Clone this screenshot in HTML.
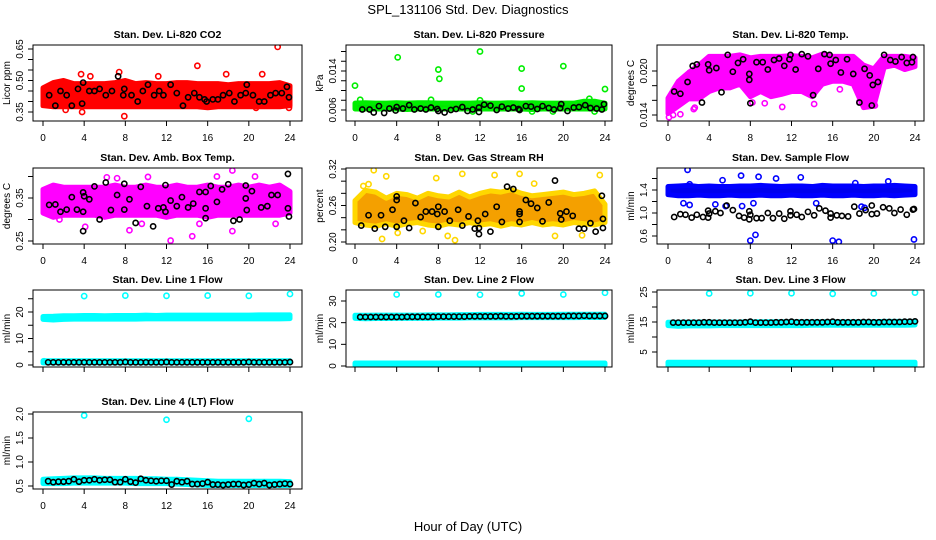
<!DOCTYPE html>
<html><head><meta charset="utf-8">
<style>
html,body{margin:0;padding:0;background:#fff;}
svg{display:block;font-family:"Liberation Sans",sans-serif;}
</style></head>
<body>
<svg id="chart" width="936" height="540" viewBox="0 0 936 540" xmlns="http://www.w3.org/2000/svg">
<text x="468" y="14" text-anchor="middle" font-size="13">SPL_131106  Std. Dev. Diagnostics</text>
<text x="468" y="531" text-anchor="middle" font-size="13">Hour of Day (UTC)</text>
</svg>
<script>
// ---------- data ----------
const bandHours = [0,1,2,3,4,5,6,7,8,9,10,11,12,13,14,15,16,17,18,19,20,21,22,23,24];
const blackHours = [0.5,1,1.5,2,2.5,3,3.5,4,4.5,5,5.5,6,6.5,7,7.5,8,8.5,9,9.5,10,10.5,11,11.5,12,12.5,13,13.5,14,14.5,15,15.5,16,16.5,17,17.5,18,18.5,19,19.5,20,20.5,21,21.5,22,22.5,23,23.5,24];

// CO2
const co2Lower = [0.38,0.375,0.375,0.375,0.375,0.375,0.375,0.375,0.375,0.375,0.375,0.375,0.375,0.375,0.375,0.375,0.37,0.375,0.375,0.375,0.375,0.375,0.375,0.375,0.38];
const co2Upper = [0.465,0.49,0.5,0.485,0.485,0.485,0.485,0.49,0.5,0.485,0.49,0.485,0.485,0.49,0.49,0.485,0.485,0.485,0.48,0.485,0.485,0.485,0.485,0.49,0.475];
const co2OutX = [3.7,7.4,15,22.8,7.9,3.8,17.8,11.2,2.2,20.7,23.9,4.6,21.3];
const co2OutY = [0.53,0.54,0.57,0.66,0.33,0.35,0.53,0.52,0.36,0.37,0.37,0.52,0.53];
const co2BlackX = [0.6,1.2,1.7,2.3,2.8,3.4,3.8,3.9,4.5,5.0,5.5,6.1,6.7,7.3,7.8,7.9,8.6,9.2,9.7,10.2,10.8,11.3,11.7,12.4,13.0,13.6,14.1,14.7,15.2,15.7,15.9,16.5,17.0,17.5,18.1,18.6,19.2,19.7,19.8,20.4,21.0,21.5,22.1,22.6,23.2,23.7,23.9];
const co2BlackY = [0.43,0.38,0.45,0.43,0.38,0.46,0.39,0.49,0.45,0.45,0.46,0.43,0.45,0.52,0.43,0.46,0.43,0.40,0.45,0.48,0.43,0.45,0.43,0.48,0.44,0.38,0.42,0.44,0.42,0.41,0.40,0.41,0.41,0.43,0.44,0.40,0.43,0.44,0.48,0.43,0.40,0.40,0.43,0.44,0.44,0.47,0.42];

// Pressure
const presLower = [0.0062,0.0062,0.0062,0.0062,0.0062,0.0061,0.0062,0.0062,0.0062,0.0062,0.0062,0.0062,0.0062,0.0062,0.0062,0.0062,0.0062,0.0061,0.0062,0.0062,0.0062,0.0062,0.0062,0.0062,0.0062];
const presUpper = [0.0074,0.0075,0.0074,0.0074,0.0075,0.0074,0.0075,0.0075,0.0074,0.0074,0.0074,0.0074,0.0075,0.0074,0.0074,0.0075,0.0074,0.0075,0.0074,0.0074,0.0074,0.0074,0.0078,0.0078,0.0074];
const presOutX = [0,0.5,4.1,8,8.1,12,16,16,20,24,7.3,12,22.5,17,11.3,23,19];
const presOutY = [0.0110,0.0081,0.0168,0.0143,0.0124,0.0180,0.0145,0.0104,0.0150,0.0103,0.0081,0.0080,0.0083,0.0057,0.0057,0.0057,0.0057];
const presBlackX = [0.7,1.4,1.8,2.3,2.8,3.3,3.9,4.0,4.6,5.2,5.7,6.3,6.8,7.3,7.9,8.0,8.6,9.2,9.7,10.3,10.8,11.3,11.9,11.9,12.4,13.0,13.6,14.1,14.7,15.2,15.7,15.8,16.4,16.9,17.5,18.0,18.6,19.1,19.7,19.8,20.4,21.0,21.5,22.1,22.6,23.2,23.7,23.9];
const presBlackY = [0.0061,0.0061,0.0055,0.0068,0.0054,0.0063,0.0059,0.0066,0.0063,0.0070,0.0061,0.0063,0.0061,0.0065,0.0062,0.0058,0.0055,0.0060,0.0062,0.0066,0.0058,0.0061,0.0065,0.0056,0.0071,0.0069,0.0060,0.0067,0.0063,0.0065,0.0062,0.0060,0.0068,0.0067,0.0062,0.0068,0.0064,0.0061,0.0064,0.0072,0.0058,0.0065,0.0066,0.0070,0.0064,0.0063,0.0061,0.0072];

// Li-820 Temp
const tempLower = [0.0142,0.0152,0.0162,0.0162,0.0172,0.0177,0.0177,0.0182,0.0165,0.0172,0.0165,0.0168,0.0172,0.0172,0.0165,0.0182,0.0186,0.0186,0.0182,0.0150,0.0152,0.0205,0.0208,0.0202,0.0206];
const tempUpper = [0.0163,0.0186,0.0198,0.0208,0.0220,0.0220,0.0220,0.0222,0.0218,0.0220,0.0220,0.0220,0.0221,0.0220,0.0218,0.0223,0.0220,0.0220,0.0220,0.0208,0.0203,0.0220,0.0220,0.0220,0.0218];
const tempOutX = [0.1,0.5,1.2,2.5,2.6,8.2,9.4,11.1,14.2,16.7,20.1,18.6];
const tempOutY = [0.0137,0.0140,0.0141,0.0148,0.0150,0.0157,0.0156,0.0151,0.0155,0.0175,0.0153,0.0158];
const tempBlackX = [0.6,1.2,1.9,2.4,2.8,3.3,3.9,4.0,4.7,5.2,5.8,6.3,6.8,7.3,7.9,7.9,8.0,8.6,9.2,9.7,10.3,10.8,11.3,11.8,11.9,12.4,13.0,13.6,14.1,14.6,15.2,15.7,15.8,16.3,16.8,17.4,18.0,18.6,19.1,19.6,19.8,19.9,20.4,21.0,21.6,22.1,22.7,23.2,23.7,23.8];
const tempBlackY = [0.0172,0.0169,0.0185,0.0207,0.0209,0.0157,0.0209,0.0201,0.0204,0.0171,0.0222,0.0199,0.0211,0.0216,0.0196,0.0188,0.0156,0.0212,0.0212,0.0202,0.0215,0.0217,0.0207,0.0216,0.0222,0.0202,0.0223,0.0220,0.0167,0.0203,0.0223,0.0222,0.0210,0.0215,0.0198,0.0216,0.0196,0.0157,0.0203,0.0194,0.0153,0.0181,0.0185,0.0222,0.0215,0.0213,0.0219,0.0211,0.0212,0.0219];

// Amb box temp
const ambLower = [0.315,0.305,0.31,0.31,0.31,0.31,0.305,0.31,0.31,0.31,0.31,0.31,0.305,0.31,0.31,0.31,0.305,0.31,0.31,0.31,0.31,0.31,0.31,0.31,0.315];
const ambUpper = [0.37,0.38,0.375,0.375,0.375,0.375,0.375,0.38,0.375,0.375,0.38,0.375,0.375,0.38,0.375,0.375,0.38,0.375,0.375,0.38,0.375,0.38,0.375,0.38,0.365];
const ambOutX = [1.6,4.1,6.2,8.4,12.4,14.5,18.4,18.4,20.6,22.6,10.2,7.2,15.2,16.9,0.3,9.6];
const ambOutY = [0.300,0.283,0.398,0.275,0.251,0.261,0.273,0.414,0.400,0.290,0.399,0.396,0.290,0.400,0.320,0.290];
const ambBlackX = [0.6,1.2,1.7,2.3,2.8,3.3,3.9,4.0,3.9,3.9,4.5,5.0,5.5,6.1,6.6,7.2,7.9,7.9,8.4,9.0,9.5,10.1,10.7,11.2,11.7,11.9,11.9,12.4,13.0,13.5,14.1,14.6,15.2,15.8,15.8,15.8,16.3,16.9,17.4,18.0,18.5,19.1,19.7,19.7,19.8,20.3,21.2,21.8,22.2,22.8,23.8,23.8,23.9];
const ambBlackY = [0.334,0.335,0.318,0.323,0.352,0.323,0.363,0.354,0.318,0.273,0.347,0.377,0.300,0.386,0.322,0.357,0.383,0.323,0.347,0.292,0.376,0.331,0.284,0.326,0.328,0.318,0.380,0.344,0.331,0.352,0.328,0.337,0.364,0.364,0.326,0.303,0.378,0.341,0.370,0.382,0.297,0.300,0.349,0.379,0.322,0.366,0.328,0.331,0.357,0.357,0.406,0.326,0.307];

// Gas stream RH
const rhLower = [0.232,0.228,0.226,0.23,0.226,0.23,0.232,0.228,0.226,0.23,0.228,0.232,0.228,0.23,0.226,0.23,0.228,0.232,0.228,0.23,0.228,0.232,0.23,0.228,0.232];
const rhUpper = [0.268,0.285,0.282,0.272,0.28,0.278,0.272,0.28,0.276,0.274,0.282,0.274,0.28,0.284,0.282,0.286,0.28,0.276,0.278,0.28,0.282,0.278,0.28,0.284,0.262];
const rhOutX = [1.8,3.0,7.8,10.3,13.4,15.8,23.5,1.3,4.1,2.6,9.6,19.2,21.8,8.9,0.8,6.5,17.2];
const rhOutY = [0.318,0.308,0.305,0.312,0.310,0.312,0.310,0.295,0.215,0.205,0.203,0.210,0.211,0.210,0.292,0.218,0.296];
const rhBlackX = [0.6,1.3,1.9,2.5,2.9,3.6,4.0,4.0,4.0,4.7,5.2,5.8,6.3,6.8,7.4,8.0,7.9,8.0,8.6,9.1,9.9,10.3,10.9,11.5,11.8,11.9,11.9,12.5,13.0,13.6,14.1,14.6,15.2,15.8,15.8,15.8,16.4,16.9,17.5,18.0,18.6,19.2,19.7,19.8,20.3,20.9,21.5,22.0,22.6,23.1,23.7,23.8,23.8];
const rhBlackY = [0.227,0.244,0.222,0.244,0.225,0.253,0.275,0.269,0.225,0.235,0.223,0.264,0.241,0.250,0.250,0.258,0.246,0.225,0.250,0.235,0.253,0.227,0.242,0.222,0.235,0.223,0.213,0.246,0.217,0.258,0.233,0.291,0.287,0.250,0.246,0.233,0.269,0.263,0.256,0.234,0.265,0.301,0.247,0.237,0.250,0.243,0.222,0.222,0.231,0.217,0.276,0.238,0.223];

// Sample flow
const sfLower = [1.32,1.3,1.3,1.31,1.3,1.3,1.31,1.3,1.3,1.31,1.3,1.3,1.31,1.3,1.3,1.31,1.3,1.3,1.31,1.3,1.3,1.31,1.3,1.31,1.32];
const sfUpper = [1.46,1.47,1.48,1.46,1.47,1.46,1.46,1.47,1.47,1.48,1.47,1.46,1.47,1.47,1.46,1.48,1.47,1.47,1.47,1.46,1.47,1.47,1.48,1.47,1.46];
const sfOutX = [1.9,2.1,5.3,7.1,8.8,10.5,12.9,18.2,21.4,8.0,8.5,16.0,16.6,23.9,8.3,7.2,1.5,2.1,5.6,18.8,19.1,14.4,4.6];
const sfOutY = [1.75,1.50,1.57,1.65,1.63,1.60,1.62,1.52,1.55,0.52,0.62,0.52,0.50,0.54,1.17,1.12,1.17,1.14,1.12,1.11,1.09,1.17,1.15];
const sfBlackX = [0.6,1.2,1.7,2.3,2.8,3.4,3.9,3.9,4.0,4.6,5.1,5.7,6.3,6.9,7.4,7.9,7.9,8.0,8.6,9.1,9.7,10.2,10.8,11.3,11.9,11.9,12.5,13.0,13.6,14.2,14.7,15.3,15.8,15.8,16.4,16.9,17.5,18.1,18.6,19.2,19.8,19.8,20.3,20.9,21.5,22.0,22.6,23.2,23.8,23.9];
const sfBlackY = [0.93,0.98,0.97,0.92,0.97,0.93,1.04,0.92,0.99,1.03,1.00,1.13,1.05,0.95,0.92,0.89,1.03,0.97,0.91,0.91,1.00,0.91,0.99,0.90,1.03,0.96,0.97,0.93,1.02,0.96,1.08,1.04,0.99,0.92,0.96,0.95,0.94,1.11,0.99,1.05,1.13,0.98,0.99,1.10,1.08,1.00,1.06,0.97,1.06,1.07];

// Line 1 flow
const l1Lower = [17.2,17.0,17.2,17.3,17.3,17.3,17.3,17.3,17.3,17.3,17.4,17.4,17.4,17.4,17.4,17.4,17.4,17.4,17.4,17.4,17.4,17.4,17.4,17.4,17.5];
const l1Upper = [18.3,18.4,18.6,18.6,18.7,18.7,18.6,18.7,18.7,18.7,18.8,18.7,18.8,18.8,18.8,18.8,18.8,18.8,18.8,18.8,18.8,18.9,18.9,18.9,18.9];
const l1LowLower = [0.8,0.8,0.8,0.8,0.8,0.8,0.8,0.8,0.8,0.8,0.8,0.8,0.8,0.8,0.8,0.8,0.8,0.8,0.8,0.8,0.8,0.8,0.8,0.8,0.8];
const l1LowUpper = [1.6,1.6,1.6,1.6,1.6,1.6,1.6,1.6,1.6,1.6,1.6,1.6,1.6,1.6,1.6,1.6,1.6,1.6,1.6,1.6,1.6,1.6,1.6,1.6,1.6];
const l1OutX = [4,8,12,16,20,24,0.1];
const l1OutY = [26.0,26.2,26.1,26.2,26.1,26.8,1.4];
const l1BlackY = [1.0,1.0,1.0,1.0,1.0,1.0,1.0,1.0,1.0,1.0,1.0,1.0,1.0,1.0,1.0,1.1,1.0,1.0,1.0,1.0,1.0,1.0,1.0,1.1,1.0,1.0,1.0,1.0,1.0,1.0,1.0,1.0,1.0,1.0,1.0,1.0,1.0,1.0,1.0,1.1,1.0,1.0,1.0,1.0,1.0,1.0,1.0,1.1];

// Line 2 flow
const l2Lower = [22.0,21.8,21.9,21.9,22.0,22.0,22.0,22.0,22.1,22.1,22.1,22.2,22.2,22.2,22.2,22.2,22.3,22.3,22.3,22.3,22.3,22.3,22.4,22.4,22.4];
const l2Upper = [23.4,23.4,23.5,23.5,23.5,23.5,23.5,23.6,23.6,23.6,23.7,23.7,23.8,23.8,23.8,23.8,23.9,23.8,23.8,23.8,23.9,23.9,23.9,23.9,23.9];
const l2LowLower = [0.3,0.3,0.3,0.3,0.3,0.3,0.3,0.3,0.3,0.3,0.3,0.3,0.3,0.3,0.3,0.3,0.3,0.3,0.3,0.3,0.3,0.3,0.3,0.3,0.3];
const l2LowUpper = [1.4,1.4,1.4,1.4,1.4,1.4,1.4,1.4,1.4,1.4,1.4,1.4,1.4,1.4,1.4,1.4,1.4,1.4,1.4,1.4,1.4,1.4,1.4,1.4,1.4];
const l2OutX = [4,8,12,16,20,24];
const l2OutY = [33.0,33.0,32.9,33.5,33.0,33.8];
const l2BlackY = [22.6,22.6,22.6,22.6,22.6,22.6,22.6,22.6,22.6,22.7,22.7,22.7,22.7,22.7,22.7,22.8,22.8,22.8,22.8,22.8,22.8,22.9,22.9,22.9,22.9,22.9,22.9,23.0,22.9,22.9,22.9,23.0,23.0,23.0,23.0,23.0,23.0,23.0,23.0,23.0,23.1,23.1,23.1,23.2,23.1,23.1,23.1,23.1];

// Line 3 flow
const l3Lower = [13.8,13.6,13.7,13.7,13.7,13.8,13.8,13.8,13.8,13.8,13.8,13.8,13.8,13.8,13.9,13.9,13.9,13.9,13.9,13.9,13.9,13.9,13.9,13.9,14.0];
const l3Upper = [14.9,14.9,15.0,15.0,15.0,15.0,15.0,15.0,15.1,15.1,15.1,15.1,15.1,15.1,15.1,15.1,15.1,15.1,15.1,15.1,15.1,15.2,15.2,15.2,15.2];
const l3LowLower = [0.4,0.4,0.4,0.4,0.4,0.4,0.4,0.4,0.4,0.4,0.4,0.4,0.4,0.4,0.4,0.4,0.4,0.4,0.4,0.4,0.4,0.4,0.4,0.4,0.4];
const l3LowUpper = [1.6,1.6,1.6,1.6,1.6,1.6,1.6,1.6,1.6,1.6,1.6,1.6,1.6,1.6,1.6,1.6,1.6,1.6,1.6,1.6,1.6,1.6,1.6,1.6,1.6];
const l3OutX = [4,8,12,16,20,24];
const l3OutY = [24.5,24.6,24.6,24.4,24.5,24.8];
const l3BlackY = [14.8,14.8,14.8,14.8,14.8,14.8,14.9,14.9,14.8,14.8,14.8,14.8,14.8,14.8,14.9,15.1,14.8,14.8,14.8,14.8,14.9,14.9,15.0,15.1,14.9,14.9,14.9,14.9,14.9,14.9,15.0,15.1,14.9,14.9,14.9,14.9,14.9,15.0,15.0,14.9,14.9,15.0,15.0,15.0,15.0,15.1,15.1,15.2];

// Line 4 flow
const l4Lower = [0.55,0.55,0.55,0.56,0.56,0.56,0.56,0.56,0.56,0.55,0.55,0.55,0.55,0.54,0.53,0.52,0.51,0.51,0.51,0.51,0.51,0.51,0.51,0.51,0.51];
const l4Upper = [0.64,0.65,0.66,0.67,0.67,0.67,0.66,0.66,0.66,0.66,0.65,0.65,0.64,0.64,0.63,0.62,0.61,0.60,0.60,0.60,0.60,0.60,0.60,0.60,0.59];
const l4OutX = [4,12,20];
const l4OutY = [1.97,1.88,1.90];
const l4BlackY = [0.60,0.58,0.59,0.59,0.60,0.64,0.59,0.62,0.62,0.64,0.62,0.63,0.63,0.58,0.58,0.64,0.59,0.57,0.65,0.62,0.61,0.60,0.61,0.61,0.53,0.60,0.58,0.60,0.54,0.54,0.55,0.58,0.53,0.53,0.52,0.53,0.54,0.54,0.52,0.53,0.56,0.54,0.56,0.52,0.53,0.54,0.55,0.54];

// ---------- panels ----------
const COLS = [[33,302,43,290],[346,612,355,605],[657,924,668,915]];
const ROWS = [[45,121],[168,244],[290,367],[412,489]];
const panels = [
 {name:'co2',title:'Stan. Dev. Li-820 CO2',ylab:'Licor ppm',c:0,r:0,ya:[0.35,112],yb:[0.65,49],ticks:[0.35,0.40,0.45,0.50,0.55,0.60,0.65],labels:['0.35','0.50','0.65'],lv:[0.35,0.50,0.65],xl:true,col:'#ff0000',fill:'#ff0000',
  bands:[[co2Lower,co2Upper]],ox:co2OutX,oy:co2OutY,bx:co2BlackX,by:co2BlackY},
 {name:'pressure',title:'Stan. Dev. Li-820 Pressure',ylab:'kPa',c:1,r:0,ya:[0.006,110],yb:[0.014,71],ticks:[0.006,0.008,0.010,0.012,0.014,0.016,0.018],labels:['0.006','0.014'],lv:[0.006,0.014],xl:true,col:'#00ee00',fill:'#00dd00',
  bands:[[presLower,presUpper]],ox:presOutX,oy:presOutY,bx:presBlackX,by:presBlackY},
 {name:'li820-temp',title:'Stan. Dev. Li-820 Temp.',ylab:'degrees C',c:2,r:0,ya:[0.014,115],yb:[0.020,71],ticks:[0.014,0.016,0.018,0.020],labels:['0.014','0.020'],lv:[0.014,0.020],xl:true,col:'#ff00ff',fill:'#ff00ff',
  bands:[[tempLower,tempUpper]],ox:tempOutX,oy:tempOutY,bx:tempBlackX,by:tempBlackY},
 {name:'amb-box-temp',title:'Stan. Dev. Amb. Box Temp.',ylab:'degrees C',c:0,r:1,ya:[0.25,241],yb:[0.35,198],ticks:[0.25,0.30,0.35,0.40],labels:['0.25','0.35'],lv:[0.25,0.35],xl:true,col:'#ff00ff',fill:'#ff00ff',
  bands:[[ambLower,ambUpper]],ox:ambOutX,oy:ambOutY,bx:ambBlackX,by:ambBlackY},
 {name:'gas-rh',title:'Stan. Dev. Gas Stream RH',ylab:'percent',c:1,r:1,ya:[0.20,242],yb:[0.32,169],ticks:[0.20,0.22,0.24,0.26,0.28,0.30,0.32],labels:['0.20','0.26','0.32'],lv:[0.20,0.26,0.32],xl:true,col:'#ffd700',fill:'#f4a000',
  bands:[[rhLower,rhUpper]],ox:rhOutX,oy:rhOutY,bx:rhBlackX,by:rhBlackY},
 {name:'sample-flow',title:'Stan. Dev. Sample Flow',ylab:'ml/min',c:2,r:1,ya:[0.6,236],yb:[1.4,190],ticks:[0.6,0.8,1.0,1.2,1.4,1.6],labels:['0.6','1.0','1.4'],lv:[0.6,1.0,1.4],xl:true,col:'#0000ff',fill:'#0000ee',
  bands:[[sfLower,sfUpper]],ox:sfOutX,oy:sfOutY,bx:sfBlackX,by:sfBlackY},
 {name:'line1-flow',title:'Stan. Dev. Line 1 Flow',ylab:'ml/min',c:0,r:2,ya:[0,365],yb:[20,312],ticks:[0,5,10,15,20,25],labels:['0','10','20'],lv:[0,10,20],xl:false,col:'#00ffff',fill:'#00ffff',
  bands:[[l1Lower,l1Upper],[l1LowLower,l1LowUpper]],ox:l1OutX,oy:l1OutY,bx:blackHours,by:l1BlackY},
 {name:'line2-flow',title:'Stan. Dev. Line 2 Flow',ylab:'ml/min',c:1,r:2,ya:[0,366],yb:[30,301],ticks:[0,10,20,30],labels:['0','10','20','30'],lv:[0,10,20,30],xl:false,col:'#00ffff',fill:'#00ffff',
  bands:[[l2Lower,l2Upper],[l2LowLower,l2LowUpper]],ox:l2OutX,oy:l2OutY,bx:blackHours,by:l2BlackY},
 {name:'line3-flow',title:'Stan. Dev. Line 3 Flow',ylab:'ml/min',c:2,r:2,ya:[5,352],yb:[25,292],ticks:[5,10,15,20,25],labels:['5','15','25'],lv:[5,15,25],xl:false,col:'#00ffff',fill:'#00ffff',
  bands:[[l3Lower,l3Upper],[l3LowLower,l3LowUpper]],ox:l3OutX,oy:l3OutY,bx:blackHours,by:l3BlackY},
 {name:'line4-flow',title:'Stan. Dev. Line 4 (LT) Flow',ylab:'ml/min',c:0,r:3,ya:[0.5,486],yb:[2.0,414],ticks:[0.5,1.0,1.5,2.0],labels:['0.5','1.0','1.5','2.0'],lv:[0.5,1.0,1.5,2.0],xl:true,col:'#00ffff',fill:'#00ffff',
  bands:[[l4Lower,l4Upper]],ox:l4OutX,oy:l4OutY,bx:blackHours,by:l4BlackY}
];
const xTicks = [0,4,8,12,16,20,24];

const NS='http://www.w3.org/2000/svg';
const svg=document.getElementById('chart');
function mk(tag,attrs,parent){const e=document.createElementNS(NS,tag);for(const k in attrs)e.setAttribute(k,attrs[k]);(parent||svg).appendChild(e);return e;}

panels.forEach((p,i)=>{
  const [L,R,x0,x24]=COLS[p.c];const [T,B]=ROWS[p.r];
  const xs=v=>x0+(x24-x0)*v/24;
  const ys=v=>p.ya[1]+(p.yb[1]-p.ya[1])*(v-p.ya[0])/(p.yb[0]-p.ya[0]);
  const g=mk('g',{});
  
  
  const cp=mk('clipPath',{id:'cp'+i},g);
  mk('rect',{x:L,y:T,width:R-L,height:B-T},cp);
  const t=mk('text',{x:(L+R)/2,y:T-7,'text-anchor':'middle','font-size':'10.5','font-weight':'bold'},g);
  t.textContent=p.title;
  
  
  const plot=mk('g',{'clip-path':'url(#cp'+i+')'},g);
  p.bands.forEach(([lo,hi])=>{
    let pts=[];
    bandHours.forEach((h,k)=>pts.push(xs(h)+','+ys(hi[k])));
    for(let k=bandHours.length-1;k>=0;k--)pts.push(xs(bandHours[k])+','+ys(lo[k]));
    const pg=mk('polygon',{points:pts.join(' '),fill:p.fill,stroke:p.col,'stroke-width':5,'stroke-linejoin':'round'},plot);
    
    
  });
  p.ox.forEach((x,k)=>{
    const c=mk('circle',{cx:xs(x),cy:ys(p.oy[k]),r:2.6,fill:'none',stroke:p.col,'stroke-width':1.6},plot);
    
    
  });
  p.bx.forEach((x,k)=>{
    const c=mk('circle',{cx:xs(x),cy:ys(p.by[k]),r:2.6,fill:'none',stroke:'#000','stroke-width':1.6},plot);
    
    
  });
  const box=mk('rect',{x:L,y:T,width:R-L,height:B-T,fill:'none',stroke:'#000','stroke-width':1},g);
  
  
  xTicks.forEach(v=>{
    mk('line',{x1:xs(v),x2:xs(v),y1:B,y2:B+5,stroke:'#000'},g);
    if(p.xl){const tx=mk('text',{x:xs(v),y:B+20,'text-anchor':'middle','font-size':'10'},g);tx.textContent=String(v);
      
      }
  });
  p.ticks.forEach(v=>{mk('line',{x1:L-5,x2:L,y1:ys(v),y2:ys(v),stroke:'#000'},g);});
  p.lv.forEach((v,k)=>{
    const yy=ys(v);
    const tx=mk('text',{x:L-10,y:yy,'text-anchor':'middle','font-size':'10',transform:'rotate(-90 '+(L-10)+' '+yy+')'},g);
    tx.textContent=p.labels[k];
    
    
  });
  const yl=mk('text',{x:L-23,y:(T+B)/2,'text-anchor':'middle','font-size':'10',transform:'rotate(-90 '+(L-23)+' '+((T+B)/2)+')'},g);
  yl.textContent=p.ylab;
  
  
});
</script>
</body></html>
